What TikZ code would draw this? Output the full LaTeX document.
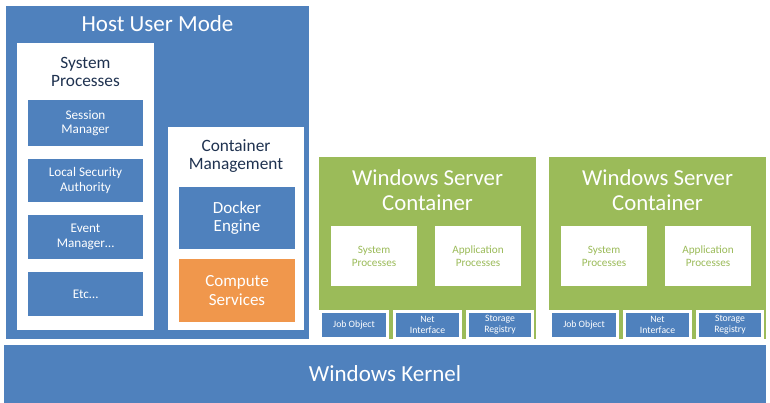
\documentclass[tikz,border=0pt]{standalone}
\usepackage{fontspec}
\setmainfont{Carlito}
\usepackage{xcolor}
\usepackage{tikz}
\usetikzlibrary{positioning, shadows}
\definecolor{winblue}{HTML}{4F81BD}
\definecolor{wingreen}{HTML}{9BBB59}
\definecolor{winorange}{HTML}{F0974C}
\definecolor{winink}{HTML}{1F3250}
\newcommand{\fsTitle}{\fontsize{23}{26}\selectfont}
\newcommand{\fsWsc}{\fontsize{22.8}{25}\selectfont}
\newcommand{\fsHead}{\fontsize{17.3}{18}\selectfont}
\newcommand{\fsBig}{\fontsize{17}{18.5}\selectfont}
\newcommand{\fsBody}{\fontsize{13.2}{14.5}\selectfont}
\newcommand{\fsSmall}{\fontsize{11.2}{13}\selectfont}
\newcommand{\fsTiny}{\fontsize{9.7}{11}\selectfont}

\begin{document}
\begin{tikzpicture}[x=1pt, y=-1pt,
  box/.style={anchor=north west, inner sep=0pt, outer sep=0pt, align=center},
  bluebox/.style={box, fill=winblue, text=white},
  whitebox/.style={box, fill=white},
  soft/.style={drop shadow={shadow xshift=1pt, shadow yshift=-1pt, opacity=0.25}}]
  \useasboundingbox (0,0) rectangle (770,403);

  % host side
  \node[bluebox, soft, draw=white, line width=3pt, minimum width=306, minimum height=335.5] (host) at (4.5,4.5) {};
  \node[font=\fsTitle, text=white] (hosttitle) at (157.5,24) {Host User Mode};

  \node[whitebox, minimum width=137, minimum height=287] (sysproc) at (17,43) {};
  \node[font=\fsHead, text=winink, align=center] (sysproctitle) at (85.5,72) {System\\Processes};
  \node[bluebox, font=\fsBody, minimum width=115, minimum height=46] (session) at (28,100) {Session\\Manager};
  \node[bluebox, font=\fsBody, minimum width=115, minimum height=43] (lsa) at (28,159) {Local Security\\Authority};
  \node[bluebox, font=\fsBody, minimum width=115, minimum height=44] (event) at (28,215) {Event\\Manager\dots};
  \node[bluebox, font=\fsBody, minimum width=115, minimum height=44] (etc) at (28,272) {Etc\dots};

  \node[whitebox, minimum width=136, minimum height=203] (mgmt) at (168,127) {};
  \node[font=\fsHead, text=winink, align=center] (mgmttitle) at (236,156) {Container\\Management};
  \node[bluebox, font=\fsBig, minimum width=116, minimum height=62] (docker) at (179,187) {Docker\\Engine};
  \node[box, fill=winorange, text=white, font=\fsBig, minimum width=116, minimum height=63] (compute) at (179,259) {Compute\\Services};

  % kernel
  \node[bluebox, font=\fsTitle, minimum width=762, minimum height=58] (kernel) at (4,345) {Windows Kernel};

  % containers
  \foreach \i/\dx in {1/0, 2/230}{
    \node[box, soft, fill=wingreen, draw=white, line width=2pt, minimum width=219, minimum height=184] (wsc\i) at (318+\dx,156) {};
    \node[font=\fsWsc, text=white, align=center] (wsctitle\i) at (427.5+\dx,190) {Windows Server\\Container};
    \node[whitebox, text=wingreen, font=\fsSmall, minimum width=86, minimum height=60] (sys\i) at (331+\dx,226) {System\\Processes};
    \node[whitebox, text=wingreen, font=\fsSmall, minimum width=86, minimum height=60] (app\i) at (435+\dx,226) {Application\\Processes};
    \node[bluebox, soft, draw=white, line width=3pt, font=\fsTiny, minimum width=67, minimum height=27] (job\i) at (320.5+\dx,311.5) {Job Object};
    \node[bluebox, soft, draw=white, line width=3pt, font=\fsTiny, minimum width=66, minimum height=27] (net\i) at (394.5+\dx,311.5) {Net\\Interface};
    \node[bluebox, soft, draw=white, line width=3pt, font=\fsTiny, minimum width=65, minimum height=27] (store\i) at (467.5+\dx,311.5) {Storage\\Registry};
  }
\end{tikzpicture}
\end{document}
